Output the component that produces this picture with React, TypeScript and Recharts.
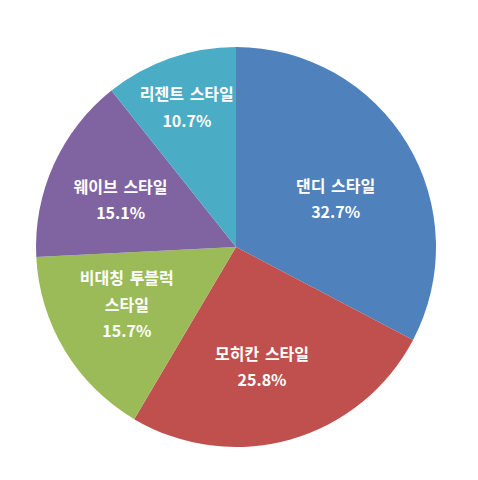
import { PieChart, Pie, Cell } from "recharts";

const styles = ["댄디 스타일", "모히칸 스타일", "비대칭 투블럭 스타일", "웨이브 스타일", "리젠트 스타일"];
const shares = [32.7, 25.8, 15.7, 15.1, 10.7];
const labelLines = [["댄디 스타일"], ["모히칸 스타일"], ["비대칭 투블럭", "스타일"], ["웨이브 스타일"], ["리젠트 스타일"]];
const colors = ["#4F81BD", "#C0504D", "#9BBB59", "#8064A2", "#4BACC6"];

const data = styles.map((name, i) => ({ name, value: shares[i] }));

// label placement: share of radius, and clockwise nudge in degrees (excel "best fit")
const labelRadius = [0.555, 0.61, 0.615, 0.625, 0.745];
const labelTurn = [5, 3.5, 3.7, -1.7, 0];
const RADIAN = Math.PI / 180;

function renderLabel(props: any) {
  const { cx, cy, midAngle, outerRadius, index, value } = props;
  const r = outerRadius * labelRadius[index];
  const a = (midAngle - labelTurn[index]) * RADIAN;
  const x = cx + r * Math.cos(-a);
  const y = cy + r * Math.sin(-a);
  const lines = [...labelLines[index], `${value.toFixed(1)}%`];
  const lineH = 26.5;
  const top = y - ((lines.length - 1) * lineH) / 2;
  return (
    <text
      x={x}
      y={top}
      fill="#fff"
      textAnchor="middle"
      dominantBaseline="central"
      fontFamily="'Noto Sans CJK KR', 'Noto Sans', sans-serif"
      fontWeight={700}
      fontSize={16}
      style={{ wordSpacing: 2 }}
    >
      {lines.map((l, i) => (
        <tspan key={i} x={x} dy={i === 0 ? 0 : lineH}>
          {l}
        </tspan>
      ))}
    </text>
  );
}

export default function App() {
  return (
    <div style={{ position: "fixed", left: 0, top: 0, background: "#fff" }}>
      <PieChart width={478} height={480} margin={{ top: 0, right: 0, bottom: 0, left: 0 }}>
        <Pie
          data={data}
          dataKey="value"
          nameKey="name"
          cx={236}
          cy={247}
          outerRadius={200}
          startAngle={90}
          endAngle={-270}
          stroke="none"
          label={renderLabel}
          labelLine={false}
          isAnimationActive={false}
        >
          {data.map((d, i) => (
            <Cell key={d.name} fill={colors[i]} />
          ))}
        </Pie>
      </PieChart>
    </div>
  );
}
